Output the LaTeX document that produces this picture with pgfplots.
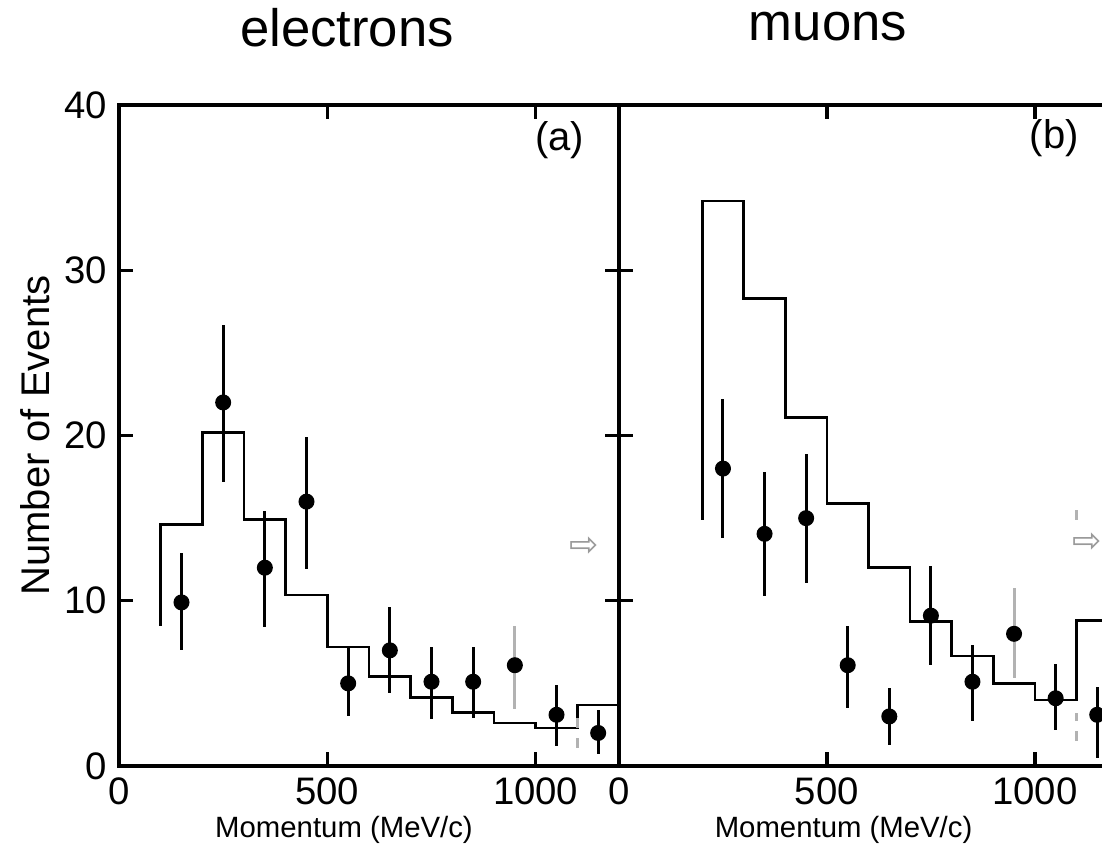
\documentclass[border=0pt]{standalone}
\usepackage{fontspec}
\setmainfont{Liberation Sans}
\newfontfamily\symfont{DejaVu Sans}
\usepackage{pgfplots}
\pgfplotsset{compat=1.18}

\pgfplotsset{
  panel/.style={
    scale only axis, height=198.3pt,
    ymin=0, ymax=40, ytick={0,10,20,30,40},
    xtick={0,500,1000},
    axis line style={line width=1.2pt},
    major tick length=4.2pt,
    every tick/.style={black, line width=1pt},
    tick label style={font=\fontsize{11.5}{12}\selectfont},
    /pgf/number format/assume math mode=true,
    /pgf/number format/1000 sep={},
    xlabel={Momentum (MeV/c)},
    xlabel style={font=\fontsize{8.8}{10}\selectfont,
      at={(axis description cs:0.45,-0.097)}, anchor=center},
    clip=false,
  },
  hist/.style={black, line width=0.8pt, const plot mark left, no marks},
  pts/.style={black, only marks, mark=*, mark size=2.2pt,
    error bars/.cd, y dir=both, y explicit, error mark=none,
    error bar style={line width=0.9pt}},
  faint/.style={gray!60, only marks, mark=*, mark size=2.2pt,
    mark options={black},
    error bars/.cd, y dir=both, y explicit, error mark=none,
    error bar style={line width=0.9pt, gray!60}},
}

\begin{document}
\begin{tikzpicture}
\useasboundingbox (0,0) rectangle (330.6pt,-254.1pt);

% electrons
\begin{axis}[panel, name=L,
  at={(35.7pt,-229.8pt)}, anchor=south west,
  width=150pt, xmin=0, xmax=1200,
  ylabel={Number of Events},
  ylabel style={font=\fontsize{12}{14}\selectfont,
    at={(axis description cs:-0.168,0.5)}, anchor=center},
]
\addplot[hist] coordinates {
  (100,8.5)(100,14.6)(200,20.2)(300,14.9)(400,10.35)(500,7.2)(600,5.4)
  (700,4.15)(800,3.25)(900,2.6)(1000,2.3)(1100,3.7)(1200,3.7)};
\addplot[pts] coordinates {
  (150,9.9) += (0,3.0) -= (0,2.85)
  (250,22.0) += (0,4.7) -= (0,4.8)
  (350,12.0) += (0,3.45) -= (0,3.6)
  (450,16.0) += (0,3.9) -= (0,4.1)
  (550,5.0) += (0,2.2) -= (0,2.0)
  (650,7.0) += (0,2.6) -= (0,2.6)
  (750,5.1) += (0,2.1) -= (0,2.25)
  (850,5.1) += (0,2.1) -= (0,2.2)
  (1050,3.1) += (0,1.8) -= (0,1.9)
  (1150,2.0) += (0,1.4) -= (0,1.3)};
\addplot[faint] coordinates {(950,6.1) += (0,2.4) -= (0,2.65)};
\addplot[gray!60, line width=0.8pt, dashed] coordinates {(1100,1.1)(1100,3.2)};
\node[font=\fontsize{12}{14}\selectfont] at (axis cs:1058,37.9) {(a)};
\node[font=\symfont\fontsize{10.5}{12}\selectfont, text=gray!80] at (axis cs:1117,13.3) {⇨};
\end{axis}

% muons
\begin{axis}[panel, name=R,
  at={(185.7pt,-229.8pt)}, anchor=south west,
  width=149.7pt, xmin=0, xmax=1200,
  yticklabels={},
]
\addplot[hist] coordinates {
  (200,14.9)(200,34.2)(300,28.3)(400,21.1)(500,15.9)(600,12.0)
  (700,8.75)(800,6.66)(900,5.0)(1000,4.0)(1100,8.8)(1200,8.8)};
\addplot[pts] coordinates {
  (250,18.0) += (0,4.2) -= (0,4.2)
  (350,14.05) += (0,3.75) -= (0,3.75)
  (450,15.0) += (0,3.9) -= (0,3.9)
  (550,6.1) += (0,2.4) -= (0,2.6)
  (650,3.0) += (0,1.7) -= (0,1.7)
  (750,9.1) += (0,3.0) -= (0,3.0)
  (850,5.1) += (0,2.2) -= (0,2.4)
  (1050,4.1) += (0,2.1) -= (0,1.95)
  (1150,3.1) += (0,1.7) -= (0,2.6)};
\addplot[faint] coordinates {(950,8.0) += (0,2.8) -= (0,2.65)};
\addplot[gray!60, line width=0.8pt, dashed] coordinates {(1100,14.9)(1100,16.1)};
\addplot[gray!60, line width=0.8pt, dashed] coordinates {(1100,1.5)(1100,3.2)};
\node[font=\fontsize{12}{14}\selectfont] at (axis cs:1047,38.0) {(b)};
\node[font=\symfont\fontsize{10.5}{12}\selectfont, text=gray!80] at (axis cs:1125,13.5) {⇨};
\end{axis}

\node[anchor=base, font=\fontsize{15.8}{18}\selectfont] at (104.1pt,-14.1pt) {electrons};
\node[anchor=base, font=\fontsize{15.8}{18}\selectfont] at (248.4pt,-12.3pt) {muons};
\end{tikzpicture}
\end{document}
